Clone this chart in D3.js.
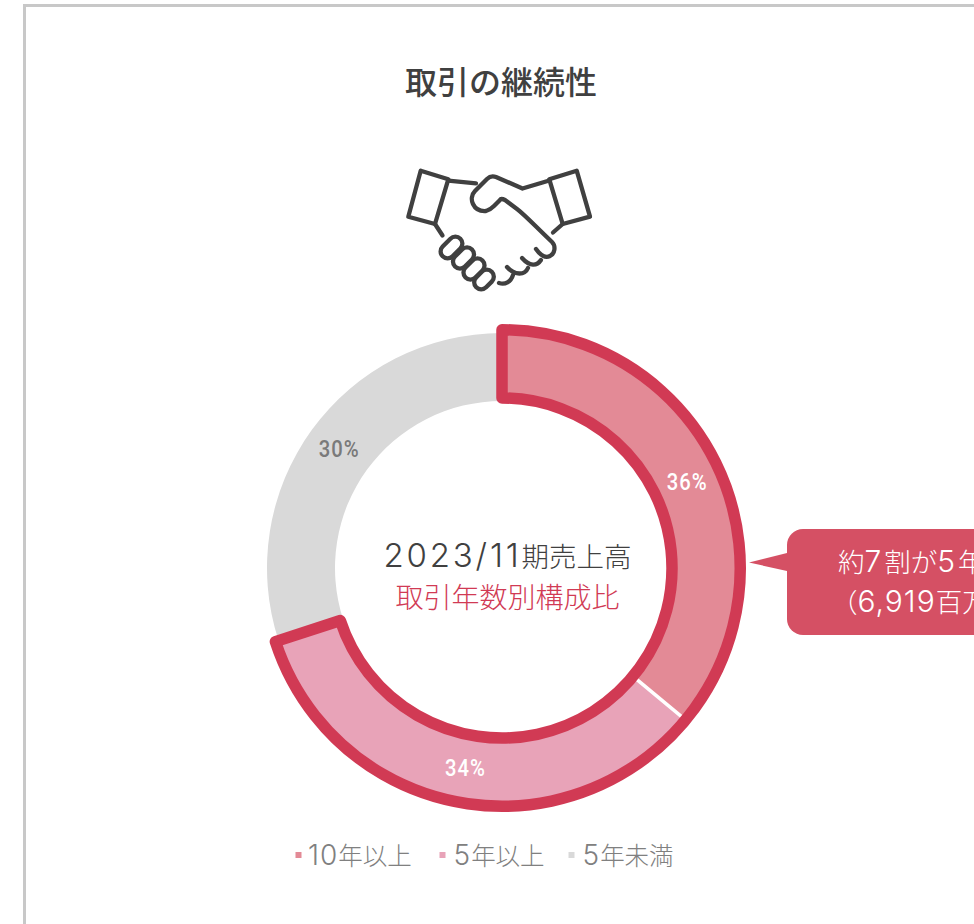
<!DOCTYPE html>
<html><head><meta charset="utf-8">
<script src="https://cdn.jsdelivr.net/npm/d3@7"></script>
<style>html,body{margin:0;padding:0;background:#fff;overflow:hidden}svg{display:block}
text{font-family:"Noto Sans CJK JP","Noto Sans",sans-serif}</style></head><body>
<svg id="c" width="974" height="924"></svg>
<script>
const categories=["10年以上","5年以上","5年未満"];
const values=[36,34,30];
const labels=["36%","34%","30%"];
const colors=["#e38a96","#e8a3b8","#d9d9d9"];
const labelColors=["#ffffff","#ffffff","#7a7a7a"];
const highlighted=[0,1];
const title="取引の継続性";
const centerLines=["2023/11期売上高","取引年数別構成比"];
const calloutLines=["約7割が5年以上","（6,919百万円）"];

const svg=d3.select("#c");
const cx=502,cy=568,R=235,r=167,sR=238.25,sr=170;

function mixed(x,y,str,size,digitSize,ls,fill,anchor){
 const t=svg.append("text").attr("x",x).attr("y",y).attr("text-anchor",anchor||"start").attr("font-size",size).attr("font-weight",300).attr("fill",fill);
 str.split(/([0-9,\/]+)/).filter(s=>s.length).forEach(s=>{
  const sp=t.append("tspan").text(s);
  if(/^[0-9,\/]+$/.test(s)) sp.attr("font-family","Inter").attr("font-size",digitSize).attr("letter-spacing",ls);
 });
 return t;
}

svg.append("rect").attr("x",24.5).attr("y",5.5).attr("width",1000).attr("height",1000)
 .attr("fill","#fff").attr("stroke","#c8c8c8").attr("stroke-width",3);
svg.append("text").attr("x",501).attr("y",94).attr("text-anchor","middle").attr("font-size",32).attr("font-weight",500).attr("fill","#404040").text(title);

// icon
const ic=svg.append("g").attr("fill","none").attr("stroke","#404040").attr("stroke-width",4.3).attr("stroke-linejoin","round").attr("stroke-linecap","round");
["M420.7,170.7L448.3,179.3L435,224L408.3,216.7Z",
 "M448.3,180.7L476,183.3","M435,224L442.5,235.5",
 "M549.3,179.3L576.7,170.7L590,216.7L562.7,224Z","M562.7,224L553,232.5",
 "M549.3,180.5L522.5,188.5L496,177Q491,175 487,179L475,191C468,198 473,212 486,211Q490,210 494,206L500,200Q501,198 505,200L517,209C525,215 535,226 552,242C556,246 555,254 550,256C546,258 541,256 536,249",
 "M541,260C537,266 530,267 522,258","M528,268C525,275 515,276 507,267","M513,275C511,282 505,285 499,283"
].forEach(d=>ic.append("path").attr("d",d));
[[451.5,247.5,25],[463.5,258,24],[474,269,24],[484,279.5,22]].forEach(([x,y,l])=>{
 ic.append("rect").attr("x",-l/2).attr("y",-7).attr("width",l).attr("height",14).attr("rx",7)
  .attr("transform",`translate(${x},${y}) rotate(-45)`).attr("fill","#fff");
});

// donut
const g=svg.append("g").attr("transform",`translate(${cx},${cy})`);
const pie=d3.pie().sort(null).value(d=>d);
const arcs=pie(values);
const arc=d3.arc().innerRadius(r).outerRadius(R);
g.selectAll("path.s").data(arcs).join("path").attr("class","s").attr("d",arc).attr("fill",(d,i)=>colors[i]);
const a1=arcs[0].endAngle;
g.append("path").attr("d",d3.arc()({innerRadius:r,outerRadius:R,startAngle:a1,endAngle:a1})).attr("stroke","#fff").attr("stroke-width",3.5);
const hi=d3.arc().innerRadius(sr).outerRadius(sR)({startAngle:arcs[highlighted[0]].startAngle,endAngle:arcs[highlighted[1]].endAngle});
g.append("path").attr("d",hi).attr("fill","none").attr("stroke","#d13a54").attr("stroke-width",11.5).attr("stroke-linejoin","round");
const lab=d3.arc().innerRadius(203).outerRadius(203);
g.selectAll("text.p").data(arcs).join("text").attr("class","p")
 .attr("transform",(d,i)=>{const c=lab.centroid(d);return `translate(${c[0]+1.5},${c[1]+0.5}) scale(0.88,1)`})
 .attr("text-anchor","middle").attr("dy","0.36em").attr("font-size",23).attr("font-weight",500)
 .style("font-family","Roboto").attr("letter-spacing",1.2)
 .attr("fill",(d,i)=>labelColors[i]).text((d,i)=>labels[i]);

// center
mixed(507.5,567,centerLines[0],27.5,33,2.8,"#404040","middle");
mixed(507.5,608,centerLines[1],28,31,2,"#d13a54","middle");

// callout
svg.append("path").attr("d","M787,553L749,562.5L787,571Z").attr("fill","#d55064");
svg.append("rect").attr("x",787).attr("y",529).attr("width",400).attr("height",106).attr("rx",16).attr("fill","#d55064");
mixed(838,572,calloutLines[0],26.5,30,3,"#fff");
mixed(831,612,calloutLines[1],26.5,30,1,"#fff");

// legend
const lx=[295,439,568],tx=[308,453.5,582.5];
categories.forEach((c,i)=>{
 svg.append("rect").attr("x",lx[i]+0.5).attr("y",852).attr("width",6).attr("height",6).attr("fill",colors[i]);
 mixed(tx[i],865,c,24.5,28,1,"#808080");
});
</script></body></html>
